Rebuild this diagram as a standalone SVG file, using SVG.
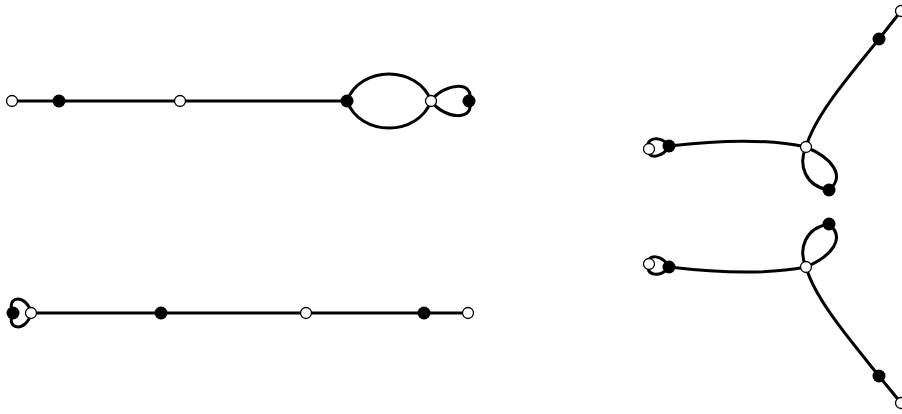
<svg xmlns="http://www.w3.org/2000/svg" width="902" height="414" viewBox="0 0 902 414">
<style>
.e{fill:none;stroke:#000;stroke-width:3;stroke-linecap:round}
.b{fill:#000}
.w{fill:#fff;stroke:#000;stroke-width:1.3}
</style>
<rect width="902" height="414" fill="#fff"/>
<g id="connectors">
<path class="e" d="M12,101H347"/>
<path class="e" d="M347,101C360,65 418,65 431,101"/>
<path class="e" d="M347,101C360,137 418,137 431,101"/>
<path class="e" d="M431,101C445,82 476,81 469,101"/>
<path class="e" d="M431,101C445,120 476,121 469,101"/>
<path class="e" d="M31,313H468"/>
<path class="e" d="M31,313C27,294 5,295 13,313"/>
<path class="e" d="M31,313C27,332 5,331 13,313"/>
<path class="e" d="M669,146C662,135 644,137 649,149"/>
<path class="e" d="M669,146C664,158 646,160 649,149"/>
<path class="e" d="M669,146C720,140 770,139 806,147"/>
<path class="e" d="M806,147C815,115 850,75 879,39L901,11"/>
<path class="e" d="M806,147C798,165 805,186 829,190"/>
<path class="e" d="M806,147C832,158 846,176 829,190"/>
<path class="e" d="M669,267C662,278 644,276 649,264"/>
<path class="e" d="M669,267C664,255 646,253 649,264"/>
<path class="e" d="M669,267C720,273 770,274 806,267"/>
<path class="e" d="M806,267C815,299 850,340 879,376L901,403"/>
<path class="e" d="M806,267C798,249 805,228 829,224"/>
<path class="e" d="M806,267C832,256 846,238 829,224"/>
</g>
<g id="n1"><circle class="w" cx="12" cy="101" r="5.5"/></g>
<g id="n2"><circle class="b" cx="59" cy="101" r="6.5"/></g>
<g id="n3"><circle class="w" cx="180" cy="101" r="5.5"/></g>
<g id="n4"><circle class="b" cx="347" cy="101" r="6.5"/></g>
<g id="n5"><circle class="w" cx="431" cy="101" r="5.5"/></g>
<g id="n6"><circle class="b" cx="469" cy="101" r="6.5"/></g>
<g id="n7"><circle class="b" cx="13" cy="313" r="6.5"/></g>
<g id="n8"><circle class="w" cx="31" cy="313" r="5.5"/></g>
<g id="n9"><circle class="b" cx="161" cy="313" r="6.5"/></g>
<g id="n10"><circle class="w" cx="306" cy="313" r="5.5"/></g>
<g id="n11"><circle class="b" cx="424" cy="313" r="6.5"/></g>
<g id="n12"><circle class="w" cx="468" cy="313" r="5.5"/></g>
<g id="n13"><circle class="w" cx="649" cy="149" r="5.5"/></g>
<g id="n14"><circle class="b" cx="669" cy="146" r="6.5"/></g>
<g id="n15"><circle class="w" cx="806" cy="147" r="5.5"/></g>
<g id="n16"><circle class="b" cx="829" cy="190" r="6.5"/></g>
<g id="n17"><circle class="b" cx="879" cy="39" r="6.5"/></g>
<g id="n18"><circle class="w" cx="901" cy="11" r="5.5"/></g>
<g id="n19"><circle class="w" cx="649" cy="264" r="5.5"/></g>
<g id="n20"><circle class="b" cx="669" cy="267" r="6.5"/></g>
<g id="n21"><circle class="w" cx="806" cy="267" r="5.5"/></g>
<g id="n22"><circle class="b" cx="829" cy="224" r="6.5"/></g>
<g id="n23"><circle class="b" cx="879" cy="376" r="6.5"/></g>
<g id="n24"><circle class="w" cx="901" cy="403" r="5.5"/></g>
</svg>
